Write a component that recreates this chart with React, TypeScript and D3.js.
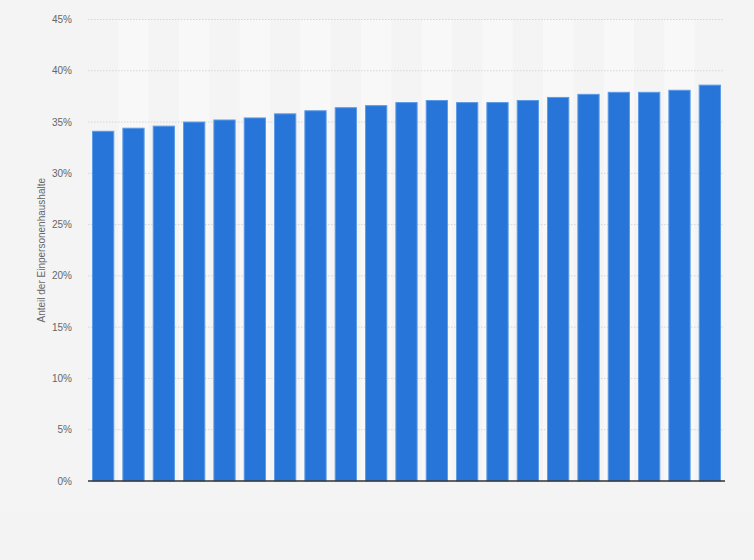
import React from "react";
import * as d3 from "d3";

const categories: string[] = [
  "1", "2", "3", "4", "5", "6", "7", "8", "9", "10", "11",
  "12", "13", "14", "15", "16", "17", "18", "19", "20", "21",
];
const values: number[] = [
  34.1, 34.4, 34.6, 35.0, 35.2, 35.4, 35.8, 36.1, 36.4, 36.6, 36.9,
  37.1, 36.9, 36.9, 37.1, 37.4, 37.7, 37.9, 37.9, 38.1, 38.6,
];
const yTicks: number[] = [0, 5, 10, 15, 20, 25, 30, 35, 40, 45];
const yLabel = "Anteil der Einpersonenhaushalte";

const W = 754;
const H = 560;
const left = 88;
const right = 725;
const top = 19.5;
const bottom = 481;

export default function App() {
  const x = d3.scaleBand<string>().domain(categories).range([left, right]).paddingInner(0.3).paddingOuter(0.15);
  const bandX = d3.scaleBand<string>().domain(categories).range([left, right]).padding(0);
  const y = d3.scaleLinear().domain([0, 45]).range([bottom, top]);
  const font = "Arial, 'Liberation Sans', sans-serif";
  return (
    <svg
      width={W}
      height={H}
      style={{ position: "absolute", left: 0, top: 0, display: "block" }}
      fontFamily={font}
    >
      <rect x={0} y={0} width={W} height={H} fill="#f4f4f4" />
      <rect x={0} y={512} width={W} height={H - 512} fill="#f3f3f3" />
      {categories.map((c, i) =>
        i % 2 === 1 ? (
          <rect key={"band" + c} x={bandX(c)} y={y(45)} width={bandX.bandwidth()} height={bottom - y(45)} fill="#f8f8f8" />
        ) : null
      )}
      {yTicks.map((t) => (
        <g key={"t" + t}>
          {t > 0 && (
            <line
              x1={left}
              x2={right - 1}
              y1={y(t)}
              y2={y(t)}
              stroke="#d6d6d6"
              strokeWidth={1}
              strokeDasharray="1.5,1.5"
            />
          )}
          <text x={72} y={y(t)} dy="0.35em" textAnchor="end" fontSize={10} fill="#666">
            {t + "%"}
          </text>
        </g>
      ))}
      {categories.map((c, i) => (
        <rect
          key={"bar" + c}
          x={x(c)}
          y={y(values[i])}
          width={x.bandwidth()}
          height={bottom - y(values[i])}
          fill="#2775d9"
          stroke="#5c9ae6"
          strokeWidth={1}
        />
      ))}
      <line x1={left} x2={right} y1={bottom} y2={bottom} stroke="#333" strokeWidth={1.5} />
      <text
        transform={`translate(41,${(top + bottom) / 2}) rotate(-90)`}
        textAnchor="middle"
        dy="0.35em"
        fontSize={10}
        fill="#666"
      >
        {yLabel}
      </text>
    </svg>
  );
}
